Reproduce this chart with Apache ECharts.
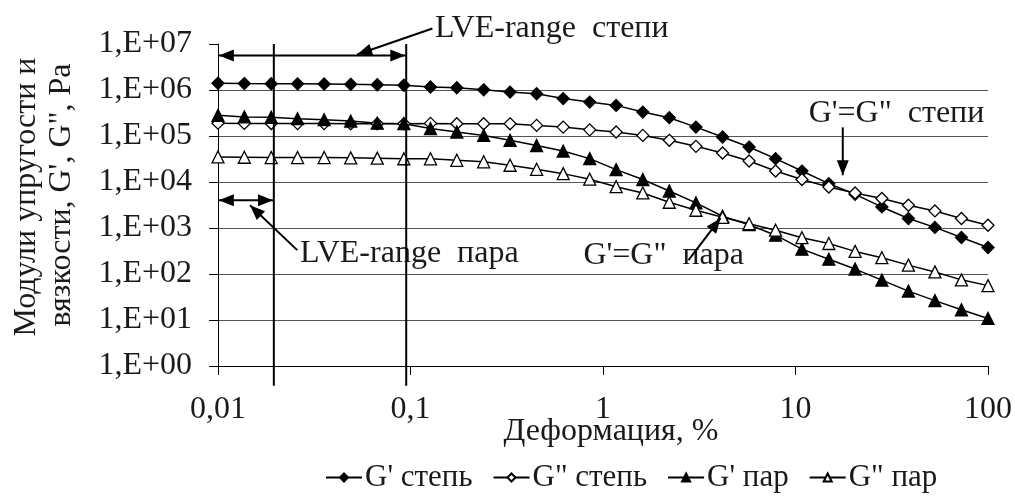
<!DOCTYPE html>
<html><head><meta charset="utf-8">
<script src="https://cdn.jsdelivr.net/npm/echarts@6/dist/echarts.min.js"></script>
<style>html,body{margin:0;padding:0;background:#fff}#c{width:1015px;height:496px}</style>
</head><body><div id="c"></div>
<script>
// ---- data ----
const strain = [0.01, 0.0137, 0.0189, 0.0259, 0.0356, 0.0489, 0.0672, 0.0924, 0.127, 0.174,
  0.24, 0.329, 0.452, 0.621, 0.853, 1.17, 1.61, 2.21, 3.04, 4.18,
  5.74, 7.88, 10.8, 14.9, 20.4, 28.1, 38.6, 53, 72.8, 100];
const gpStep = [1.40e6, 1.38e6, 1.37e6, 1.36e6, 1.35e6, 1.33e6, 1.30e6, 1.27e6, 1.16e6, 1.12e6,
  1.01e6, 9.0e5, 8.3e5, 6.5e5, 5.46e5, 4.63e5, 3.31e5, 2.50e5, 1.56e5, 9.5e4,
  5.75e4, 3.22e4, 1.73e4, 9.2e3, 5.4e3, 2.87e3, 1.61e3, 1.03e3, 622, 377];
const gppStep = [1.90e5, 1.88e5, 1.87e5, 1.86e5, 1.86e5, 1.85e5, 1.85e5, 1.85e5, 1.88e5, 1.85e5,
  1.85e5, 1.84e5, 1.70e5, 1.56e5, 1.36e5, 1.22e5, 1.03e5, 8.05e4, 5.96e4, 4.27e4,
  2.86e4, 1.73e4, 1.13e4, 7.8e3, 5.78e3, 4.37e3, 3.12e3, 2.35e3, 1.61e3, 1.15e3];
const gpPar = [2.81e5, 2.60e5, 2.55e5, 2.38e5, 2.26e5, 2.11e5, 1.90e5, 1.85e5, 1.45e5, 1.22e5,
  1.03e5, 8.05e4, 6.2e4, 4.7e4, 3.22e4, 1.86e4, 1.13e4, 6.38e3, 3.51e3, 1.80e3,
  1.18e3, 698, 347, 210, 128, 73.6, 42.5, 26.4, 16.7, 10.8];
const gppPar = [3.50e4, 3.45e4, 3.40e4, 3.40e4, 3.40e4, 3.35e4, 3.30e4, 3.20e4, 3.19e4, 2.96e4,
  2.75e4, 2.31e4, 1.89e4, 1.52e4, 1.15e4, 7.9e3, 5.78e3, 3.63e3, 2.43e3, 1.71e3,
  1.24e3, 896, 615, 460, 310, 226, 156, 111, 74.6, 55.9];
const seriesNames = ["G' степь", 'G" степь', "G' пар", 'G" пар'];
const xTitle = 'Деформация, %';
const yTitle = ['Модули упругости и', 'вязкости, G\', G", Pa'];

// annotations in data coordinates [x, y]
const vLines = [[[0.0195, 1e7], [0.0195, 0.37]], [[0.095, 1e7], [0.095, 0.37]]];
const dblArrows = [[[0.0101, 5.6e6], [0.094, 5.6e6]], [[0.0101, 4.0e3], [0.0193, 4.0e3]]];
const arrows = [[[0.130, 2.17e7], [0.0528, 5.92e6]], [[0.0258, 330], [0.01467, 3120]],
  [[2.78, 200], [4.08, 1632]], [[17.6, 1.54e5], [17.6, 1.4e4]]];
const notes = [['LVE-range  степи', 0.134, 2.17e7], ['LVE-range  пара', 0.0267, 284],
  ['G\'=G"  пара', 0.791, 257], ['G\'=G"  степи', 11.7, 3.1e5]];

const FONT = "'Liberation Serif','Times New Roman',serif";
const TXT = '#1a1a1a';
const chart = echarts.init(document.getElementById('c'));

function mk(name, vals, symbol, filled) {
  return {
    name, type: 'line', data: strain.map((x, i) => [x, vals[i]]),
    symbol, symbolSize: 12, showSymbol: true,
    lineStyle: {color: '#000', width: 1.5},
    itemStyle: {color: filled ? '#000' : '#fff', borderColor: '#000', borderWidth: 1.3},
    emphasis: {disabled: true}, animation: false
  };
}

chart.setOption({
  animation: false,
  grid: {left: 218, right: 27, top: 44, bottom: 130},
  xAxis: {
    type: 'log', logBase: 10, min: 0.01, max: 100,
    axisLine: {lineStyle: {color: '#000', width: 1}},
    axisTick: {show: true, length: 9, lineStyle: {color: '#000'}},
    minorTick: {show: false},
    splitLine: {show: false},
    axisLabel: {fontFamily: FONT, fontSize: 32, color: TXT, margin: 28,
      formatter: v => String(Number(v.toPrecision(3))).replace('.', ',')}
  },
  yAxis: {
    type: 'log', logBase: 10, min: 1, max: 1e7,
    axisLine: {show: true, lineStyle: {color: '#000', width: 1}},
    axisTick: {show: true, length: 9, lineStyle: {color: '#000'}},
    splitLine: {show: true, lineStyle: {color: ['#000', '#555', '#555', '#555', '#555', '#555', '#555', 'rgba(0,0,0,0)'], width: 1}},
    axisLabel: {fontFamily: FONT, fontSize: 32, color: TXT, margin: 26,
      formatter: v => '1,E+' + String(Math.round(Math.log10(v))).padStart(2, '0')}
  },
  legend: {
    top: 457, left: 320, itemWidth: 36, itemHeight: 10, itemGap: 20,
    textStyle: {fontFamily: FONT, fontSize: 31, color: TXT, padding: [0, 0, 0, -2]},
    data: seriesNames
  },
  series: [
    mk(seriesNames[0], gpStep, 'diamond', true),
    mk(seriesNames[1], gppStep, 'diamond', false),
    mk(seriesNames[2], gpPar, 'triangle', true),
    mk(seriesNames[3], gppPar, 'triangle', false)
  ]
});

function px(p) { return chart.convertToPixel({xAxisIndex: 0, yAxisIndex: 0}, p); }
function head(tip, from) {
  const dx = tip[0] - from[0], dy = tip[1] - from[1];
  const L = Math.hypot(dx, dy), ux = dx / L, uy = dy / L;
  const len = 15, hw = 6;
  const bx = tip[0] - ux * len, by = tip[1] - uy * len;
  return {type: 'polygon', shape: {points: [tip, [bx - uy * hw, by + ux * hw], [bx + uy * hw, by - ux * hw]]},
    style: {fill: '#000'}, z: 100};
}
function line(a, b, w) {
  return {type: 'line', shape: {x1: a[0], y1: a[1], x2: b[0], y2: b[1]}, style: {stroke: '#000', lineWidth: w}, z: 100};
}
const g = [];
vLines.forEach(([a, b]) => g.push(line(px(a), px(b), 2)));
dblArrows.forEach(([a, b]) => { const A = px(a), B = px(b); g.push(line(A, B, 2), head(A, B), head(B, A)); });
arrows.forEach(([a, b]) => { const A = px(a), B = px(b); g.push(line(A, B, 2), head(B, A)); });
notes.forEach(([t, x, y]) => { const P = px([x, y]);
  g.push({type: 'text', x: P[0], y: P[1], z: 90,
    style: {text: t, fontFamily: FONT, fontSize: 32, fill: TXT, align: 'left', verticalAlign: 'middle'}}); });
g.push({type: 'text', x: 27, y: 197, rotation: Math.PI / 2, z: 90,
  style: {text: yTitle[0], fontFamily: FONT, fontSize: 32, fill: TXT, align: 'center', verticalAlign: 'middle'}});
g.push({type: 'text', x: 62, y: 195, rotation: Math.PI / 2, z: 90,
  style: {text: yTitle[1], fontFamily: FONT, fontSize: 32, fill: TXT, align: 'center', verticalAlign: 'middle'}});
g.push({type: 'text', x: 611, y: 432, z: 90,
  style: {text: xTitle, fontFamily: FONT, fontSize: 32, fill: TXT, align: 'center', verticalAlign: 'middle'}});
chart.setOption({graphic: g});
</script>
</body></html>
